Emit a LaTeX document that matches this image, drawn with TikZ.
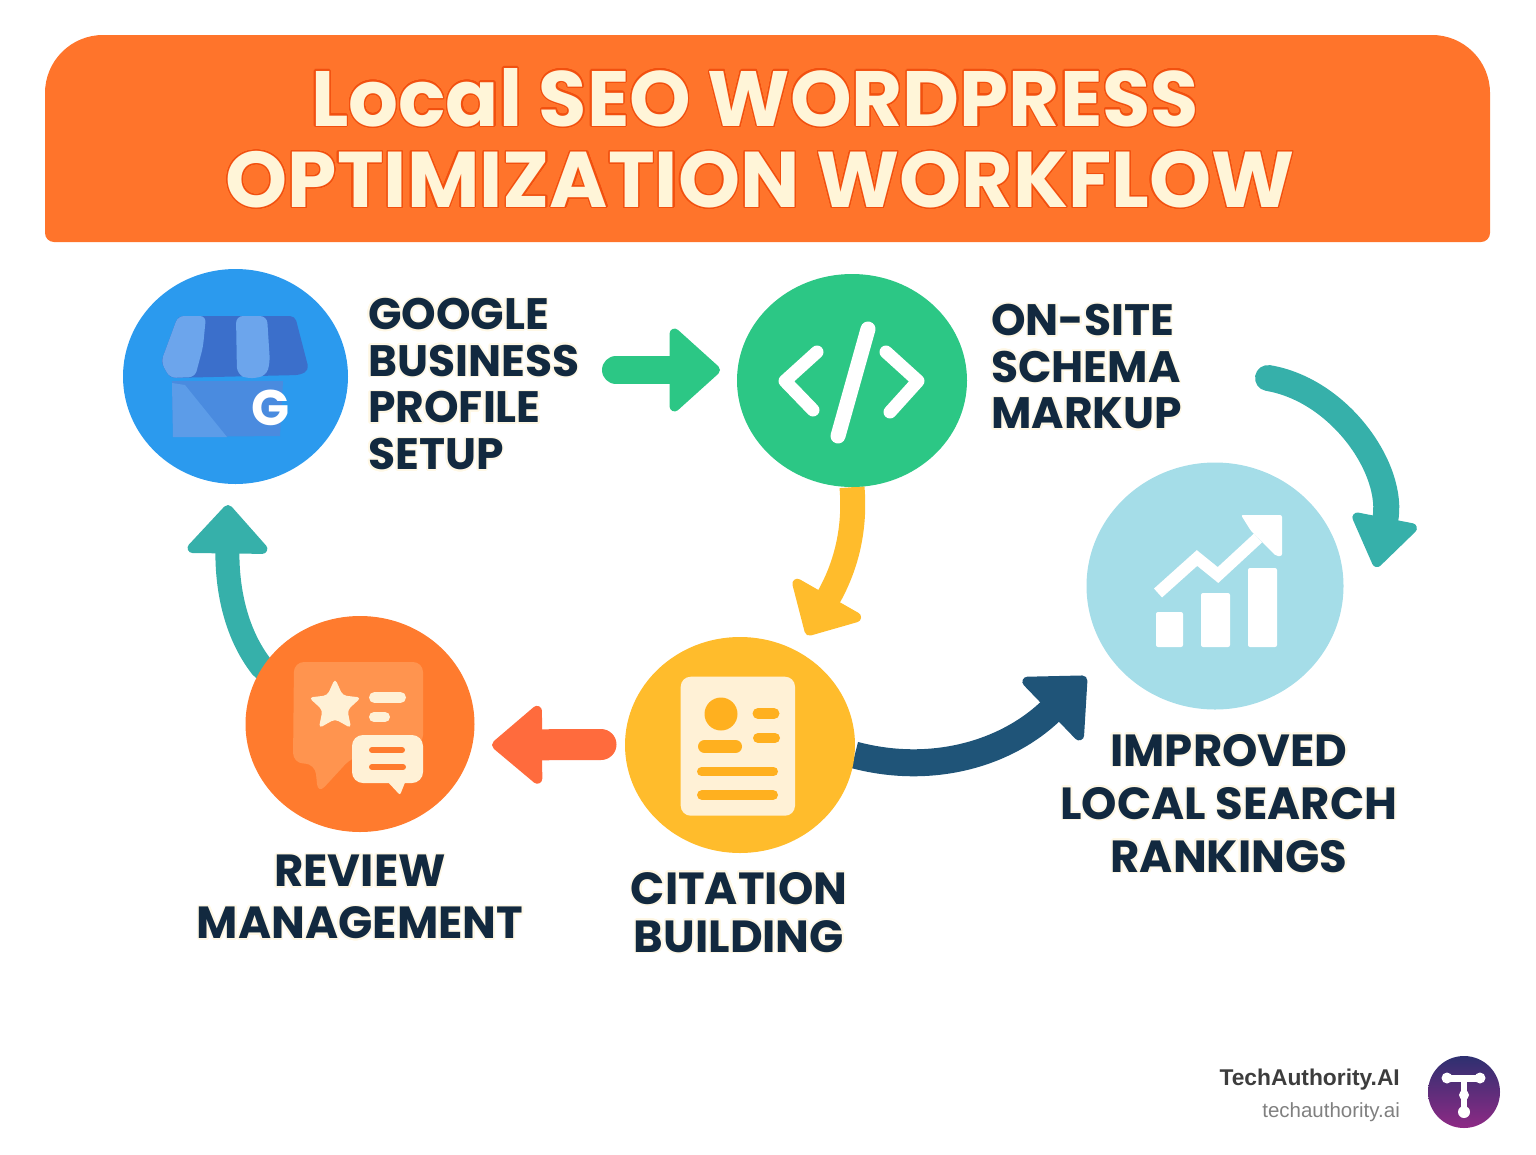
\documentclass[tikz,border=0pt]{standalone}
\usepackage{fontspec}
\usepackage{contour}
\usetikzlibrary{arrows.meta,backgrounds,shapes.geometric}
\newfontfamily\headfont{Poppins}
\setmainfont{Liberation Sans}
\contournumber{32}
\definecolor{headerorange}{HTML}{FF742B}
\definecolor{titlecream}{HTML}{FFF5D8}
\definecolor{titleedge}{HTML}{F2500F}
\definecolor{labelnavy}{HTML}{12293F}
\definecolor{halocream}{HTML}{FFF8E6}
\definecolor{gbpblue}{HTML}{2B9AEE}
\definecolor{schemagreen}{HTML}{2CC785}
\definecolor{citeyellow}{HTML}{FFBC2C}
\definecolor{reviewred}{HTML}{FF7B2E}
\definecolor{rankcyan}{HTML}{A5DDE8}
\definecolor{flowteal}{HTML}{36B0AA}
\definecolor{flownavy}{HTML}{1F5478}
\definecolor{flowred}{HTML}{FF6B3D}
\definecolor{awningdark}{HTML}{3B6FCB}
\definecolor{awninglight}{HTML}{6CA5EC}
\definecolor{shopbody}{HTML}{4A8BDF}
\definecolor{shoplight}{HTML}{5C9CE8}
\definecolor{iconcream}{HTML}{FFF1D6}
\definecolor{iconyellow}{HTML}{FFB01F}
\definecolor{bubblelight}{HTML}{FF944F}
\definecolor{logotop}{HTML}{2E3070}
\definecolor{logobottom}{HTML}{8E2A85}
\newcommand{\titletext}[1]{{\contourlength{1.2pt}\contour{titleedge}{#1}}}
\newcommand{\halo}[1]{{\contourlength{1.5pt}\contour{halocream}{#1}}}
\tikzset{
	stepdisc/.style={ellipse,inner sep=0pt,minimum width=#1},
	flowline/.style={line width=#1,line cap=round},
	flowhead/.style 2 args={-{Triangle[length=#1,width=#2,line width=10pt,round]}},
	labelside/.style={inner sep=0pt,text=labelnavy,align=left,anchor=north west,font=\headfont\bfseries\fontsize{44}{46.7}\selectfont},
	labelunder/.style={inner sep=0pt,text=labelnavy,align=center,anchor=north,font=\headfont\bfseries\fontsize{45}{#1}\selectfont},
	titleline/.style={inner sep=0pt,text=titlecream,font=\headfont\bfseries\fontsize{#1}{80}\selectfont},
	pill/.style={line cap=round,line width=#1}
}
\begin{document}
\begin{tikzpicture}[x=1pt,y=-1pt]
	%%%%% START %%%%%
	\useasboundingbox (0,0) rectangle (1536,1154);

	\fill[headerorange] (45,233) -- (45,93) arc (180:90:58pt and 58pt) -- (1432,35) arc (90:0:58pt and 58pt) -- (1490,233) arc (0:-90:9pt) -- (54,242) arc (-90:-180:9pt) -- cycle;
	\node[titleline=78.4] (titleone) at (755,98) {\titletext{Local SEO WORDPRESS}};
	\node[titleline=79] (titletwo) at (760,180) {\titletext{OPTIMIZATION WORKFLOW}};

	\node[stepdisc=225pt,minimum height=215pt,fill=gbpblue] (gbp) at (235.5,376.5) {};
	\node[stepdisc=230pt,minimum height=213pt,fill=schemagreen] (schema) at (852,380.5) {};
	\node[stepdisc=230pt,minimum height=216pt,fill=citeyellow] (citation) at (740,745) {};
	\node[stepdisc=229pt,minimum height=216pt,fill=reviewred] (review) at (360,724) {};
	\node[stepdisc=257pt,minimum height=247pt,fill=rankcyan] (rank) at (1215,586) {};

	\coordinate (greenstart) at (616,370);
	\coordinate (greenend) at (720,370);
	\coordinate (yellowend) at (807,635);
	\coordinate (tealstart) at (1268,378);
	\coordinate (tealend) at (1376,567);
	\coordinate (navyend) at (1086,677);
	\coordinate (redstart) at (601,744.5);
	\coordinate (redend) at (492,745);
	\coordinate (leftend) at (228,505);

	\begin{scope}[on background layer]
		\draw[flowline=28pt,schemagreen,flowhead={53pt}{93pt}] (greenstart) -- (greenend);
		\draw[line width=25pt,citeyellow,flowhead={47pt}{89pt}] (schema.south) .. controls (856,535) and (843,572) .. (yellowend);
		\draw[flowline=26pt,flowteal,flowhead={54pt}{72pt}] (tealstart) .. controls (1340,390) and (1395,470) .. (tealend);
		\draw[line width=27pt,flownavy,flowhead={53pt}{95pt}] (citation.-5) .. controls (930,775) and (1005,755) .. (navyend);
		\draw[flowline=31pt,flowred,flowhead={53pt}{87pt}] (redstart) -- (redend);
		\draw[flowline=24pt,flowteal,flowhead={51pt}{90pt}] (review.150) .. controls (234,632) and (227,585) .. (leftend);
	\end{scope}

	\node[labelside] (gbplabel) at (368,298) {\halo{GOOGLE}\\\halo{BUSINESS}\\\halo{PROFILE}\\\halo{SETUP}};
	\node[labelside] (schemalabel) at (991,304) {\halo{ON-SITE}\\\halo{SCHEMA}\\\halo{MARKUP}};
	\node[labelunder=52] (reviewlabel) at (360,855) {\halo{REVIEW}\\\halo{MANAGEMENT}};
	\node[labelunder=48] (citationlabel) at (739,872) {\halo{CITATION}\\\halo{BUILDING}};
	\node[labelunder=53] (ranklabel) at (1229,734) {\halo{IMPROVED}\\\halo{LOCAL SEARCH}\\\halo{RANKINGS}};

	\fill[awningdark,rounded corners=5pt] (178,316) -- (295,316) -- (309,370) -- (300,375) -- (170,378) -- (161,362) -- cycle;
	\fill[shopbody] (172,381) -- (283,381) -- (280,436) -- (173,437) -- cycle;
	\fill[shoplight] (172,383) -- (185,385) -- (227,437) -- (173,437) -- cycle;
	\fill[awninglight,rounded corners=6pt] (178,316) -- (206,316) -- (203,347) -- (195,377) -- (170,378) -- (161,362) -- cycle;
	\fill[awninglight,rounded corners=7pt] (236,316) -- (267,316) -- (270,363) -- (266,376) -- (248,379) -- (237,374) -- cycle;
	\node[inner sep=0pt,text=white,font=\headfont\bfseries\fontsize{50}{50}\selectfont] (gletter) at (270.5,408) {G};

	\draw[white,line width=13pt,line cap=round,line join=round] (817,352) -- (785,381) -- (813,410);
	\draw[white,line width=13pt,line cap=round,line join=round] (886,352) -- (918,381) -- (890,412);
	\draw[white,line width=15pt,line cap=round] (868,329) -- (838,436);

	\fill[iconcream,rounded corners=10pt] (680.7,676.7) rectangle (795,815.7);
	\fill[iconyellow] (721,714) circle (16.5pt);
	\draw[iconyellow,pill=11pt] (758,713.5) -- (774,713.5);
	\draw[iconyellow,pill=10pt] (758,738) -- (775,738);
	\draw[iconyellow,pill=13pt] (704.5,746.5) -- (735.5,746.5);
	\draw[iconyellow,pill=9pt] (701.5,771.5) -- (773.5,771.5);
	\draw[iconyellow,pill=10pt] (702,795) -- (773,795);

	\fill[bubblelight,rounded corners=10pt] (294,662) -- (423,662) -- (423,745) -- (352,757) -- (318,794) -- (315,764) -- (293,763) -- cycle;
	\fill[iconcream,rounded corners=11pt] (352,735) rectangle (423,783);
	\fill[iconcream,rounded corners=2pt] (386,780) -- (400,795) -- (406,780) -- cycle;
	\draw[reviewred,pill=6pt] (372,750) -- (402,750);
	\draw[reviewred,pill=6pt] (372,767) -- (403,767);
	\node[star,star points=5,star point ratio=2.1,minimum size=55pt,inner sep=0pt,fill=iconcream,rounded corners=4pt] (ratingstar) at (335,706) {};
	\draw[iconcream,pill=11pt] (374.5,697.5) -- (400.5,697.5);
	\draw[iconcream,pill=10pt] (374,717) -- (385,717);

	\fill[white,rounded corners=2pt] (1156,612) rectangle (1183,647);
	\fill[white,rounded corners=2pt] (1201,593) rectangle (1230,647);
	\fill[white,rounded corners=2pt] (1248,568) rectangle (1277,647);
	\draw[white,line width=12pt,line join=miter] (1158,593) -- (1197,558) -- (1218,575) -- (1258,538);
	\fill[white,rounded corners=2pt] (1241,515) -- (1282,515) -- (1282,556) -- (1276,556) -- (1264,544) -- (1251,531) -- cycle;

	\node[inner sep=0pt,anchor=base east,text=black!76,font=\bfseries\fontsize{22.8}{24}\selectfont] (brand) at (1400,1085.5) {TechAuthority.AI};
	\node[inner sep=0pt,anchor=base east,text=black!50,font=\fontsize{20.5}{24}\selectfont] (site) at (1400,1117) {techauthority.ai};

	\node[circle,inner sep=0pt,minimum size=72pt,top color=logotop,bottom color=logobottom] (logo) at (1464,1092) {};
	\draw[white,line width=7pt] (1447,1078) -- (1480,1078);
	\draw[white,line width=6pt] (1464,1078) -- (1464,1112);
	\fill[white] (1447,1078) circle (5.5pt);
	\fill[white] (1480,1078) circle (5.5pt);
	\fill[white] (1464,1095) circle (5pt);
	\fill[white] (1464,1112) circle (6pt);
	%%%%% END %%%%%
\end{tikzpicture}
\end{document}
